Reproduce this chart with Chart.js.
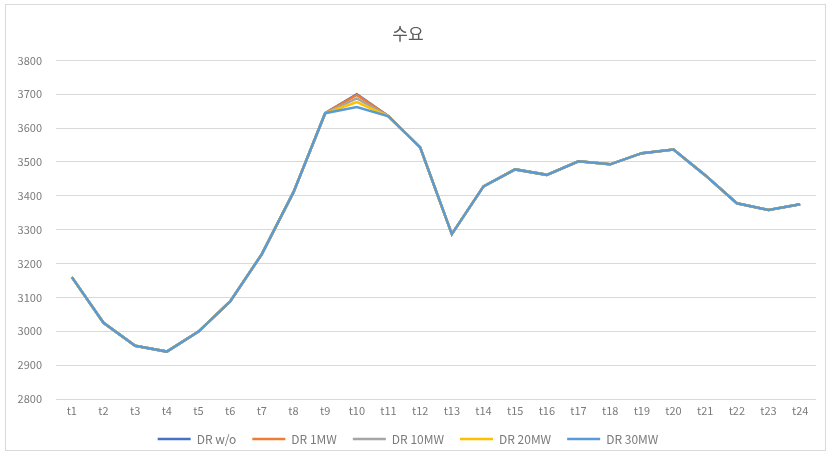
<!DOCTYPE html>
<html>
<head>
<meta charset="utf-8">
<script src="https://cdn.jsdelivr.net/npm/chart.js@4.4.1/dist/chart.umd.min.js"></script>
<style>
  html, body { margin: 0; padding: 0; background: #ffffff; }
  #wrap { position: relative; width: 831px; height: 456px; }
  #frame { position: absolute; left: 5px; top: 4px; width: 819px; height: 445px; border: 1px solid #d9d9d9; }
  canvas { position: absolute; left: 0; top: 0; }
</style>
</head>
<body>
<div id="wrap">
  <div id="frame"></div>
  <canvas id="c" width="831" height="456"></canvas>
</div>
<script>
// Hourly periods
const periods = ['t1','t2','t3','t4','t5','t6','t7','t8','t9','t10','t11','t12',
                 't13','t14','t15','t16','t17','t18','t19','t20','t21','t22','t23','t24'];

// Demand per scenario
const drNone = [3160,3025,2957,2940,2999,3088,3228,3411,3644,3700,3635,3543,3287,3428,3478,3462,3502,3493,3526,3537,3461,3378,3358,3375];
const dr1MW  = [3160,3025,2957,2940,2999,3088,3228,3411,3644,3698,3635,3543,3287,3428,3478,3462,3502,3493,3526,3537,3461,3378,3358,3375];
const dr10MW = [3160,3025,2957,2940,2999,3088,3228,3411,3644,3688,3635,3543,3287,3428,3478,3462,3502,3493,3526,3537,3461,3378,3358,3375];
const dr20MW = [3160,3025,2957,2940,2999,3088,3228,3411,3644,3677,3635,3543,3287,3428,3478,3462,3502,3493,3526,3537,3461,3378,3358,3375];
const dr30MW = [3160,3025,2957,2940,2999,3088,3228,3411,3644,3662,3635,3543,3287,3428,3478,3462,3502,3493,3526,3537,3461,3378,3358,3375];

const seriesNames = ['DR w/o','DR 1MW','DR 10MW','DR 20MW','DR 30MW'];
const seriesColors = ['#4472C4','#ED7D31','#A5A5A5','#FFC000','#5B9BD5'];
const seriesData = [drNone, dr1MW, dr10MW, dr20MW, dr30MW];

const textColor = '#7a7a7a';
const fontFamily = '"Noto Sans CJK KR", "Noto Sans", sans-serif';

new Chart(document.getElementById('c'), {
  type: 'line',
  data: {
    labels: periods,
    datasets: seriesData.map((d, i) => ({
      label: seriesNames[i],
      data: d,
      borderColor: seriesColors[i],
      backgroundColor: seriesColors[i],
      borderWidth: 2.5,
      pointRadius: 0,
      tension: 0,
      fill: false,
      // later scenarios are painted over earlier ones
      order: seriesData.length - i
    }))
  },
  options: {
    responsive: false,
    animation: false,
    layout: { padding: { left: 0, right: 15, top: 0, bottom: 1 } },
    plugins: {
      title: {
        display: true,
        text: '수요',
        color: '#595959',
        font: { family: fontFamily, size: 17, weight: 'normal' },
        padding: { top: 23, bottom: 17 }
      },
      legend: {
        position: 'bottom',
        labels: {
          color: textColor,
          font: { family: fontFamily, size: 12 },
          usePointStyle: true,
          pointStyle: 'line',
          pointStyleWidth: 33,
          boxHeight: 10,
          padding: 16,
          sort: (a, b) => a.datasetIndex - b.datasetIndex
        }
      },
      tooltip: { enabled: false }
    },
    scales: {
      x: {
        offset: true,
        grid: { display: false, drawTicks: false },
        border: { display: false },
        ticks: {
          color: textColor,
          font: { family: fontFamily, size: 11 },
          maxRotation: 0,
          autoSkip: false,
          padding: 5
        },
        afterFit: s => { s.height = 18; }
      },
      y: {
        min: 2800,
        max: 3800,
        grid: { color: '#d9d9d9', lineWidth: 1, drawTicks: false },
        border: { display: false },
        ticks: {
          stepSize: 100,
          color: textColor,
          font: { family: fontFamily, size: 11 },
          padding: 14,
          callback: v => String(v)
        },
        afterFit: s => { s.width = 56; }
      }
    }
  }
});
</script>
</body>
</html>
